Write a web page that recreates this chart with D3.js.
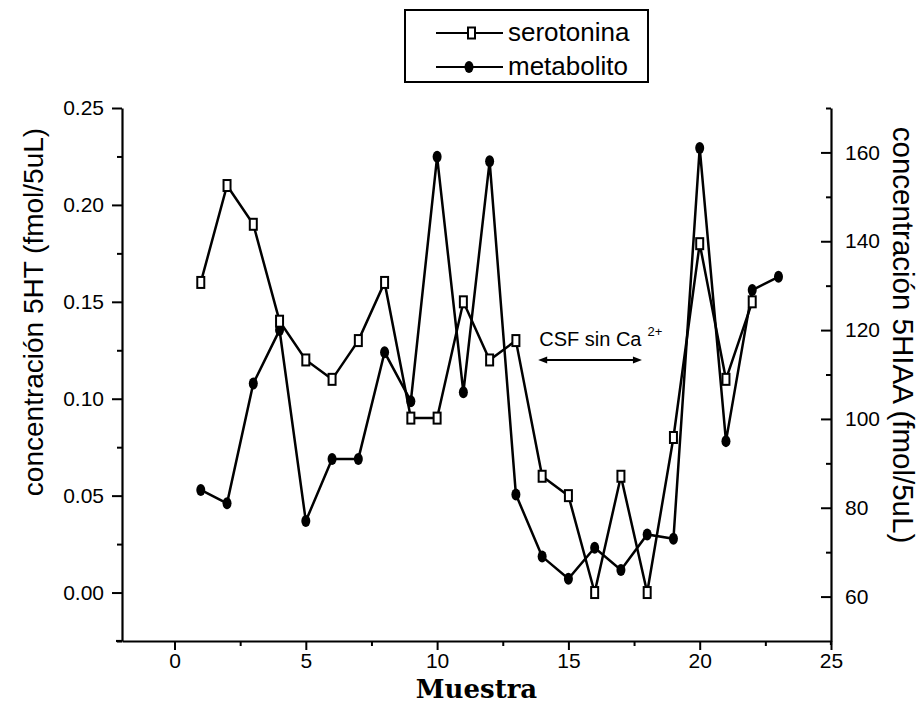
<!DOCTYPE html>
<html><head><meta charset="utf-8">
<script src="https://cdn.jsdelivr.net/npm/d3@7"></script>
<style>
body{margin:0;background:#fff}
svg text{font-family:"Liberation Sans",Arial,Helvetica,sans-serif;fill:#000}
</style>
</head><body>
<svg id="chart" width="921" height="722"></svg>
<script>
// ---- data ----
const muestras    = [1,2,3,4,5,6,7,8,9,10,11,12,13,14,15,16,17,18,19,20,21,22,23];
const serotonina  = [0.16,0.21,0.19,0.14,0.12,0.11,0.13,0.16,0.09,0.09,0.15,0.12,0.13,0.06,0.05,0.00,0.06,0.00,0.08,0.18,0.11,0.15,null];
const metabolito  = [84,81,108,120,77,91,91,115,104,159,106,158,83,69,64,71,66,74,73,161,95,129,132];
const xTicks      = [0,5,10,15,20,25];
const leftTicks   = [0.00,0.05,0.10,0.15,0.20,0.25];
const rightTicks  = [60,80,100,120,140,160];
const seriesNames = ["serotonina","metabolito"];
const xTitle = "Muestra";
const leftTitle = "concentración 5HT (fmol/5uL)";
const rightTitle = "concentración 5HIAA (fmol/5uL)";
const annotation = {label:"CSF sin Ca", sup:"2+", from:13.85, to:17.8, level:0.12};

// ---- layout ----
const svg = d3.select("#chart");
const L = 122, R = 831, T = 108, B = 641;

const x  = d3.scaleLinear().domain([-2,25]).range([L,R]);
const yL = d3.scaleLinear().domain([-0.025,0.25]).range([B,T]);
const yR = d3.scaleLinear().domain([50,170]).range([B,T]);

function styleAxis(g, fs){
  g.selectAll("path.domain").attr("stroke","#000").attr("stroke-width",2.2);
  g.selectAll(".tick line").attr("stroke","#000").attr("stroke-width",2);
  g.selectAll(".tick text").attr("font-size",fs).attr("font-family","Liberation Sans, Arial, sans-serif").attr("fill","#000");
}

// bottom axis
const gx = svg.append("g").attr("transform",`translate(0,${B})`)
  .call(d3.axisBottom(x).tickValues(xTicks).tickSizeInner(9).tickSizeOuter(0).tickPadding(3).tickFormat(d3.format("d")));
styleAxis(gx,21);
const gxm = svg.append("g").attr("transform",`translate(0,${B})`)
  .call(d3.axisBottom(x).tickValues(d3.range(-2.5,25,5).filter(v=>v>-2)).tickSize(5).tickFormat(""));
gxm.select("path.domain").remove();
styleAxis(gxm,21);
svg.append("line").attr("x1",L-6).attr("x2",L).attr("y1",B).attr("y2",B).attr("stroke","#000").attr("stroke-width",2.2);

// left axis
const gl = svg.append("g").attr("transform",`translate(${L},0)`)
  .call(d3.axisLeft(yL).tickValues(leftTicks).tickSizeInner(10).tickSizeOuter(0).tickPadding(8).tickFormat(d3.format(".2f")));
styleAxis(gl,21);
const glm = svg.append("g").attr("transform",`translate(${L},0)`)
  .call(d3.axisLeft(yL).tickValues([-0.025,0.025,0.075,0.125,0.175,0.225]).tickSize(5).tickFormat(""));
glm.select("path.domain").remove();
styleAxis(glm,21);

// right axis (ticks pointing inward)
const gr = svg.append("g").attr("transform",`translate(${R},0)`)
  .call(d3.axisRight(yR).tickValues(rightTicks).tickSizeInner(-10).tickSizeOuter(0).tickPadding(14).tickFormat(d3.format("d")));
styleAxis(gr,21);
const grm = svg.append("g").attr("transform",`translate(${R},0)`)
  .call(d3.axisRight(yR).tickValues([70,90,110,130,150,170]).tickSize(-5).tickFormat(""));
grm.select("path.domain").remove();
styleAxis(grm,21);
svg.append("line").attr("x1",R).attr("x2",R).attr("y1",B).attr("y2",B+4).attr("stroke","#000").attr("stroke-width",2.2);

// titles
svg.append("text").attr("x",x(11.5)).attr("y",B+57).attr("text-anchor","middle")
  .attr("font-size",26).attr("font-weight","bold").style("font-family","'DejaVu Serif','Liberation Serif',serif")
  .text(xTitle);
svg.append("text").attr("transform","translate(43,312) rotate(-90)").attr("text-anchor","middle")
  .attr("font-size",28).text(leftTitle);
svg.append("text").attr("transform","translate(893,335) rotate(90)").attr("text-anchor","middle")
  .attr("font-size",29.5).text(rightTitle);

// series
const seroData = muestras.map((m,i)=>({x:m,y:serotonina[i]})).filter(d=>d.y!==null);
const metaData = muestras.map((m,i)=>({x:m,y:metabolito[i]}));

const lineL = d3.line().x(d=>x(d.x)).y(d=>yL(d.y));
const lineR = d3.line().x(d=>x(d.x)).y(d=>yR(d.y));

svg.append("path").datum(metaData).attr("d",lineR).attr("fill","none").attr("stroke","#000").attr("stroke-width",2.5);
svg.append("path").datum(seroData).attr("d",lineL).attr("fill","none").attr("stroke","#000").attr("stroke-width",2.5);

svg.selectAll("ellipse.meta").data(metaData).join("ellipse").attr("class","meta")
  .attr("cx",d=>x(d.x)).attr("cy",d=>yR(d.y)).attr("rx",4.5).attr("ry",6).attr("fill","#000");
svg.selectAll("rect.sero").data(seroData).join("rect").attr("class","sero")
  .attr("x",d=>x(d.x)-3.5).attr("y",d=>yL(d.y)-5.5).attr("width",7).attr("height",11)
  .attr("fill","#fff").attr("stroke","#000").attr("stroke-width",2);

// annotation
const ay = yL(annotation.level);
const ax1 = x(annotation.from), ax2 = x(annotation.to);
svg.append("line").attr("x1",ax1+4).attr("x2",ax2-4).attr("y1",ay).attr("y2",ay).attr("stroke","#000").attr("stroke-width",2);
svg.append("path").attr("d",`M${ax1},${ay} L${ax1+9},${ay-3.5} L${ax1+9},${ay+3.5} Z`).attr("fill","#000");
svg.append("path").attr("d",`M${ax2},${ay} L${ax2-9},${ay-3.5} L${ax2-9},${ay+3.5} Z`).attr("fill","#000");
const at = svg.append("text").attr("x",ax1+1).attr("y",ay-14).attr("font-size",20);
at.append("tspan").text(annotation.label);
at.append("tspan").attr("dx",6).attr("dy",-10).attr("font-size",13).text(annotation.sup);

// legend
const lg = svg.append("g");
lg.append("rect").attr("x",405).attr("y",10).attr("width",243).attr("height",72)
  .attr("fill","#fff").attr("stroke","#000").attr("stroke-width",2);
const rows = [33,67];
seriesNames.forEach((name,i)=>{
  const yy = rows[i];
  lg.append("line").attr("x1",436).attr("x2",503).attr("y1",yy).attr("y2",yy).attr("stroke","#000").attr("stroke-width",2.2);
  if(i===0){
    lg.append("rect").attr("x",468).attr("y",yy-5.5).attr("width",7).attr("height",11).attr("fill","#fff").attr("stroke","#000").attr("stroke-width",2);
  } else {
    lg.append("ellipse").attr("cx",469).attr("cy",yy).attr("rx",4.5).attr("ry",6).attr("fill","#000");
  }
  lg.append("text").attr("x",508).attr("y",yy+8).attr("font-size",26).text(name);
});
</script>
</body></html>
